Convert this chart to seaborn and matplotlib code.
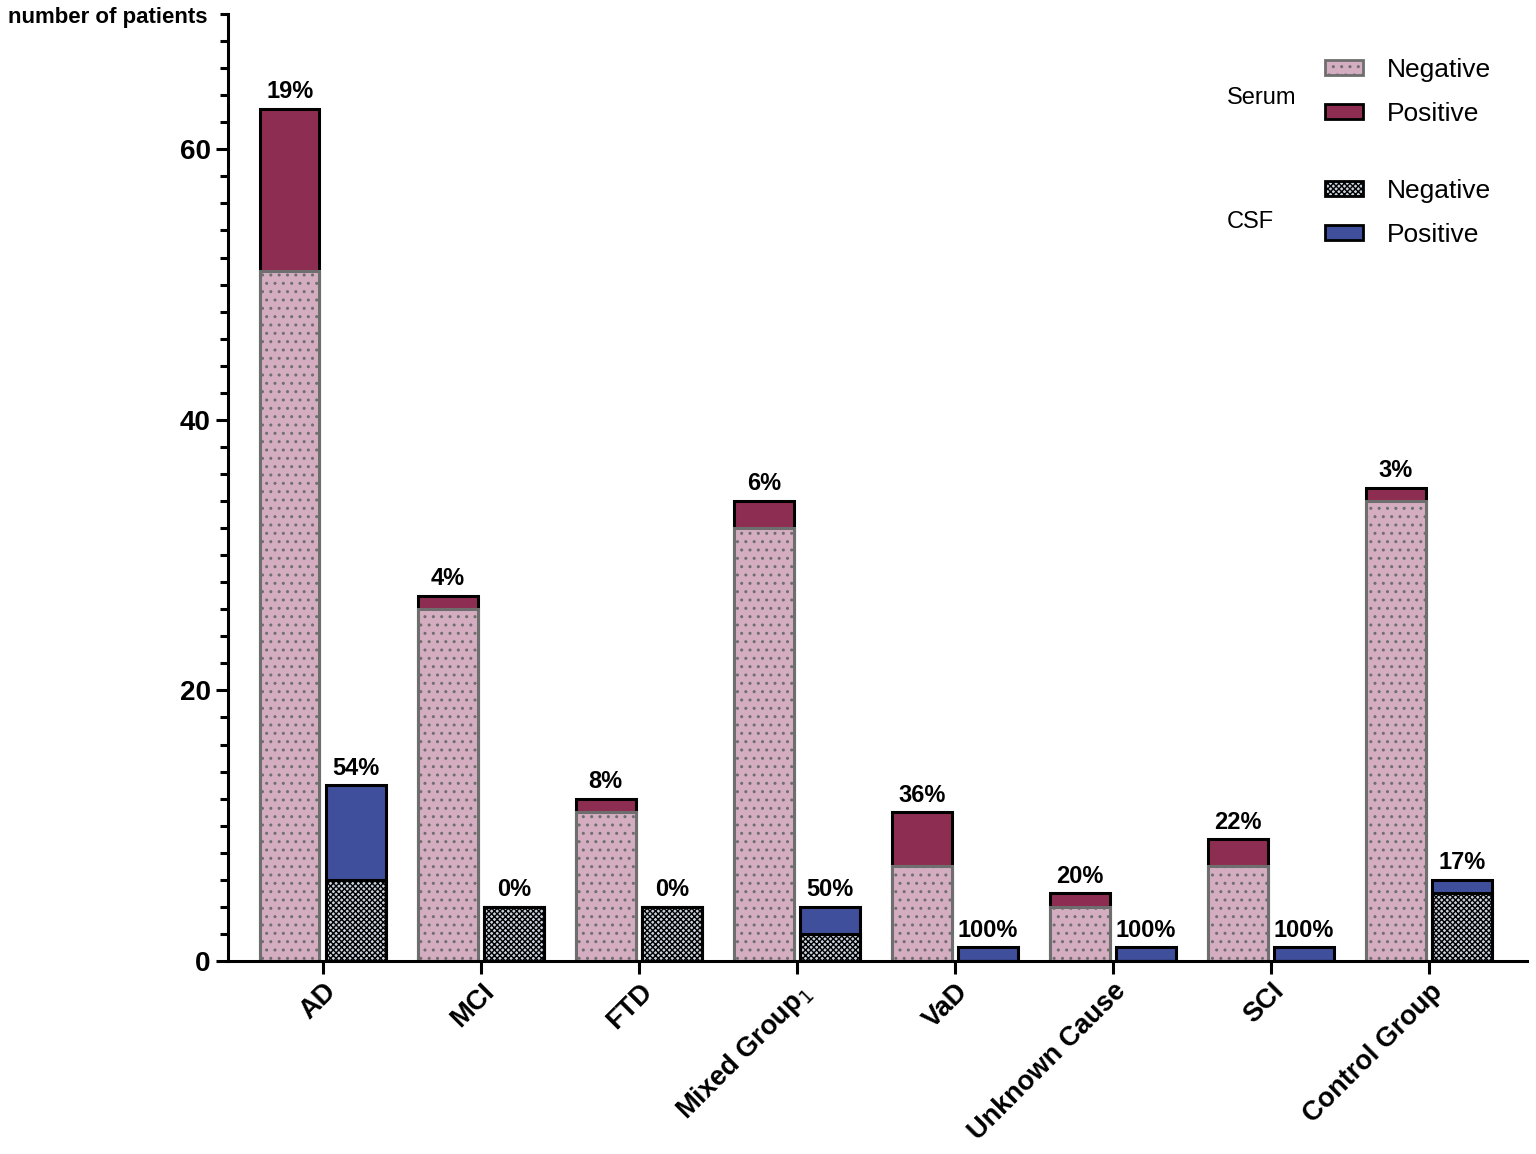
import matplotlib
matplotlib.use("Agg")
import matplotlib.pyplot as plt
import seaborn as sns
import pandas as pd
from matplotlib.patches import Patch
from matplotlib.ticker import MultipleLocator

groups = ["AD", "MCI", "FTD", "Mixed Group$_1$", "VaD", "Unknown Cause", "SCI", "Control Group"]
serum_neg = [51, 26, 11, 32, 7, 4, 7, 34]
serum_pos = [12, 1, 1, 2, 4, 1, 2, 1]
csf_neg = [6, 4, 4, 2, 0, 0, 0, 5]
csf_pos = [7, 0, 0, 2, 1, 1, 1, 1]

pink = "#d4adc1"
maroon = "#8e2d52"
blue = "#3f4f9c"
checker = "#c9d3e0"

sns.set_style("ticks")
plt.rcParams["font.family"] = ["Liberation Sans", "DejaVu Sans"]
plt.rcParams["hatch.linewidth"] = 1.0
plt.rcParams["text.color"] = "black"
plt.rcParams["xtick.color"] = "black"
plt.rcParams["ytick.color"] = "black"

rows = []
for i, g in enumerate(groups):
    rows.append({"group": g, "fluid": "Serum", "neg": serum_neg[i], "total": serum_neg[i] + serum_pos[i]})
    rows.append({"group": g, "fluid": "CSF", "neg": csf_neg[i], "total": csf_neg[i] + csf_pos[i]})
df = pd.DataFrame(rows)

fig = plt.figure(figsize=(15.36, 11.54), dpi=100)
ax = fig.add_axes([228 / 1536, 1 - 961 / 1154, (1527 - 228) / 1536, (961 - 14) / 1154])

# totals first (positive colour), negatives drawn on top
sns.barplot(data=df, x="group", y="total", hue="fluid", hue_order=["Serum", "CSF"],
            palette=[maroon, blue], saturation=1, width=0.84, gap=0.1, errorbar=None,
            legend=False, linewidth=2.2, edgecolor="black", ax=ax)
sns.barplot(data=df, x="group", y="neg", hue="fluid", hue_order=["Serum", "CSF"],
            palette=[pink, checker], saturation=1, width=0.84, gap=0.1, errorbar=None,
            legend=False, linewidth=2.2, edgecolor="black", ax=ax)

for p in ax.containers[2]:
    p.set_edgecolor("#6e6e6e")
    p.set_hatch("..")
for p in ax.containers[3]:
    p.set_edgecolor("black")
    p.set_hatch("xxxxxx")

# percent positive labels
pct_serum = [f"{round(p / (n + p) * 100)}%" for n, p in zip(serum_neg, serum_pos)]
pct_csf = [f"{round(p / (n + p) * 100)}%" for n, p in zip(csf_neg, csf_pos)]
ax.bar_label(ax.containers[0], labels=pct_serum, padding=4, fontsize=17, fontweight="bold")
ax.bar_label(ax.containers[1], labels=pct_csf, padding=4, fontsize=17, fontweight="bold")

ax.set_xlim(-0.6, len(groups) - 1 + 0.62)
ax.set_ylim(0, 70)
ax.set_yticks([0, 20, 40, 60])
ax.yaxis.set_minor_locator(MultipleLocator(2))
ax.set_xlabel("")
ax.set_ylabel("")
sns.despine(ax=ax)
for s in ["left", "bottom"]:
    ax.spines[s].set_linewidth(2.2)
    ax.spines[s].set_color("black")
ax.tick_params(axis="both", which="major", length=9, width=2.2, labelsize=20, color="black")
ax.tick_params(axis="y", which="minor", length=6, width=2.2, color="black")
for lab in ax.get_yticklabels():
    lab.set_fontweight("bold")
ax.set_xticks(range(len(groups)))
ax.set_xticklabels(groups, rotation=45, ha="right", rotation_mode="anchor",
                   fontsize=19.5, fontweight="bold")

fig.text(8 / 1536, 1 - 17 / 1154, "number of patients", fontsize=16, fontweight="bold", va="center")

# legends
serum_handles = [Patch(facecolor=pink, edgecolor="#6e6e6e", hatch="..", linewidth=2, label="Negative"),
                 Patch(facecolor=maroon, edgecolor="black", linewidth=2, label="Positive")]
csf_handles = [Patch(facecolor=checker, edgecolor="black", hatch="xxxxxx", linewidth=2, label="Negative"),
               Patch(facecolor=blue, edgecolor="black", linewidth=2, label="Positive")]
leg_kw = dict(frameon=False, fontsize=19, handlelength=1.45, handleheight=0.5,
              handletextpad=0.9, labelspacing=0.75, borderpad=0, borderaxespad=0, loc="upper left")
leg1 = fig.legend(handles=serum_handles, bbox_to_anchor=(1325 / 1536, 1 - 58 / 1154), **leg_kw)
leg2 = fig.legend(handles=csf_handles, bbox_to_anchor=(1325 / 1536, 1 - 179 / 1154), **leg_kw)
fig.text(1227 / 1536, 1 - 98 / 1154, "Serum", fontsize=17, va="center")
fig.text(1227 / 1536, 1 - 222 / 1154, "CSF", fontsize=17, va="center")

fig.savefig("out.png", dpi=100)
